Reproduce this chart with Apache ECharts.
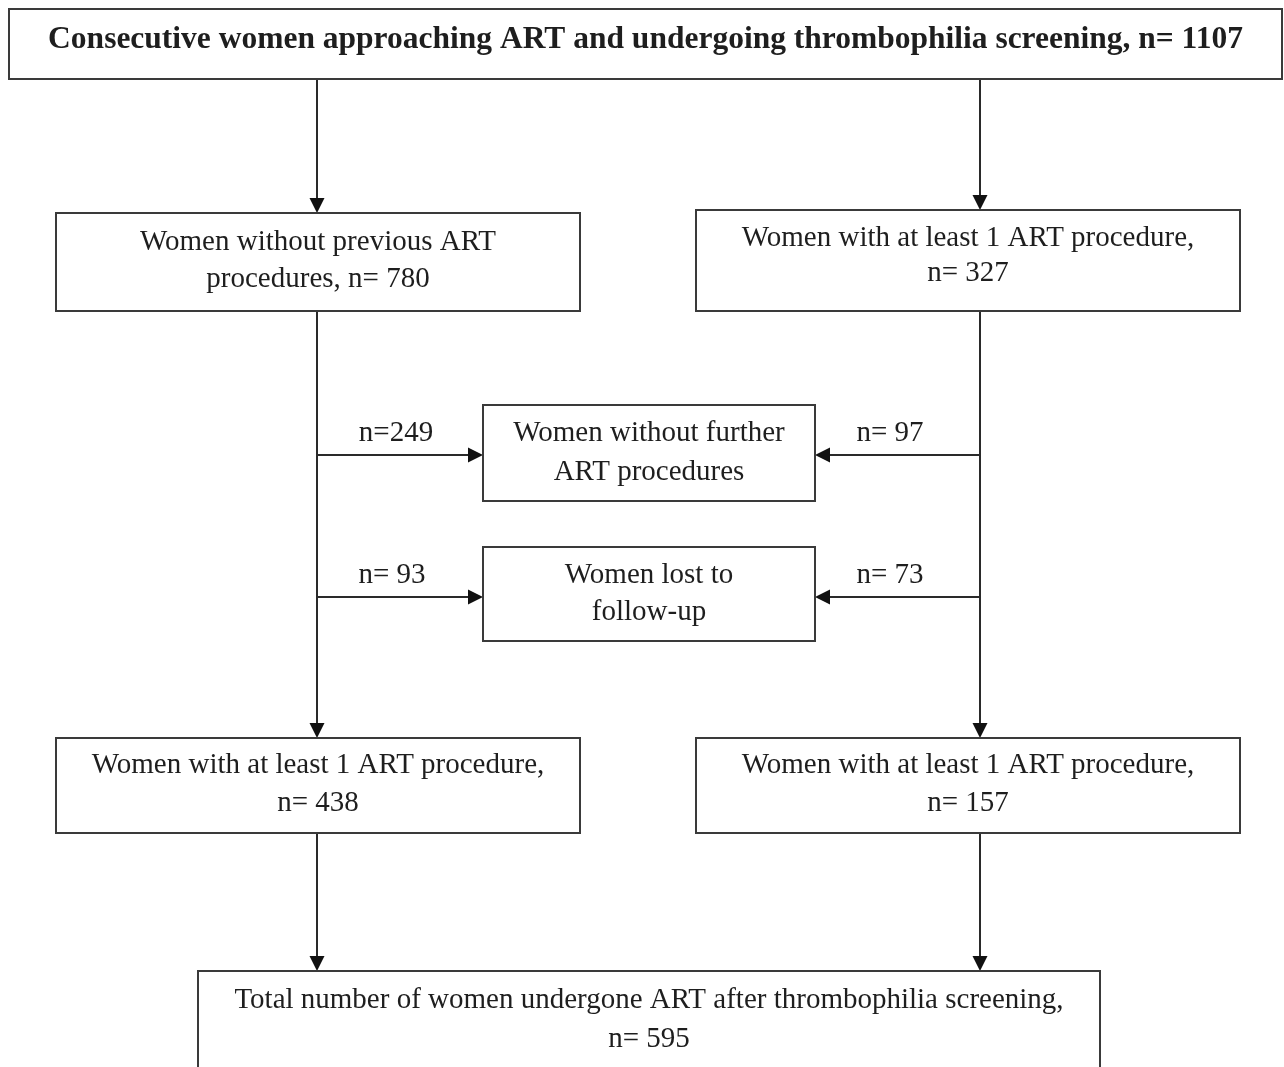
<!DOCTYPE html>
<html><head><meta charset="utf-8">
<script src="https://cdn.jsdelivr.net/npm/echarts@6/dist/echarts.min.js"></script>
<style>html,body{margin:0;padding:0;background:#fff}#c{width:1284px;height:1067px}</style>
</head><body><div id="c"></div>
<script>
// ---- content ----
const boxTexts = [
  "Consecutive women approaching ART and undergoing thrombophilia screening, n= 1107",
  "Women without previous ART\nprocedures, n= 780",
  "Women with at least 1 ART procedure,\nn= 327",
  "Women without further\nART procedures",
  "Women lost to\nfollow-up",
  "Women with at least 1 ART procedure,\nn= 438",
  "Women with at least 1 ART procedure,\nn= 157",
  "Total number of women undergone ART after thrombophilia screening,\nn= 595"
];
const boxBold = [true, false, false, false, false, false, false, false];
const countLabels = ["n=249", "n= 97", "n= 93", "n= 73"];

// ---- layout (pixel space of the diagram, 1284 x 1067) ----
const boxRects = [
  [9, 9, 1282, 79],
  [56, 213, 580, 311],
  [696, 210, 1240, 311],
  [483, 405, 815, 501],
  [483, 547, 815, 641],
  [56, 738, 580, 833],
  [696, 738, 1240, 833],
  [198, 971, 1100, 1069]
];
const boxTextY = [40, 242, 238, 433, 575, 765, 765, 1000];
const boxLineH = [37, 37, 35, 39, 37, 38, 38, 39];
const arrowSegs = [
  [317, 79, 317, 213],
  [980, 79, 980, 210],
  [317, 311, 317, 738],
  [980, 311, 980, 738],
  [317, 455, 483, 455],
  [317, 597, 483, 597],
  [980, 455, 815, 455],
  [980, 597, 815, 597],
  [317, 833, 317, 971],
  [980, 833, 980, 971]
];
const countPos = [[396, 433], [890, 433], [392, 575], [890, 575]];

const FONT_SIZE = 29;
const BOLD_SIZE = 31.5;
const FAMILY = '"Liberation Serif", "Times New Roman", serif';

const chart = echarts.init(document.getElementById('c'), null, {renderer: 'canvas'});
chart.setOption({
  animation: false,
  backgroundColor: '#ffffff',
  grid: {left: 0, right: 0, top: 0, bottom: 0},
  xAxis: {type: 'value', min: 0, max: 1284, show: false},
  yAxis: {type: 'value', min: 0, max: 1067, inverse: true, show: false},
  series: [
    {
      type: 'custom',
      coordinateSystem: 'cartesian2d',
      data: arrowSegs,
      renderItem: function (params, api) {
        const a = api.coord([api.value(0), api.value(1)]);
        const b = api.coord([api.value(2), api.value(3)]);
        const dx = b[0] - a[0], dy = b[1] - a[1];
        const len = Math.sqrt(dx * dx + dy * dy);
        const ux = dx / len, uy = dy / len;
        const L = 15, W = 7.5;
        const base = [b[0] - ux * L, b[1] - uy * L];
        return {
          type: 'group',
          children: [
            {type: 'line', shape: {x1: a[0], y1: a[1], x2: base[0], y2: base[1]},
             style: {stroke: '#2a2a2a', lineWidth: 2}},
            {type: 'polygon', shape: {points: [
              [b[0], b[1]],
              [base[0] - uy * W, base[1] + ux * W],
              [base[0] + uy * W, base[1] - ux * W]
            ]}, style: {fill: '#111111'}}
          ]
        };
      }
    },
    {
      type: 'custom',
      coordinateSystem: 'cartesian2d',
      data: boxRects.map((r, i) => r.concat([boxTextY[i]])),
      renderItem: function (params, api) {
        const i = params.dataIndex;
        const p0 = api.coord([api.value(0), api.value(1)]);
        const p1 = api.coord([api.value(2), api.value(3)]);
        const ty = api.coord([0, api.value(4)])[1];
        const lh = boxLineH[i];
        const fs = boxBold[i] ? BOLD_SIZE : FONT_SIZE;
        return {
          type: 'group',
          children: [
            {type: 'rect', shape: {x: p0[0], y: p0[1], width: p1[0] - p0[0], height: p1[1] - p0[1]},
             style: {fill: '#ffffff', stroke: '#3a3a3a', lineWidth: 2}},
            {type: 'text', x: (p0[0] + p1[0]) / 2, y: ty - lh / 2,
             style: {text: boxTexts[i], textAlign: 'center', textVerticalAlign: 'top',
                     font: (boxBold[i] ? 'bold ' : '') + fs + 'px ' + FAMILY,
                     lineHeight: lh, fill: '#1e1e1e'}}
          ]
        };
      }
    },
    {
      type: 'custom',
      coordinateSystem: 'cartesian2d',
      data: countPos,
      renderItem: function (params, api) {
        const p = api.coord([api.value(0), api.value(1)]);
        return {type: 'text', x: p[0], y: p[1],
          style: {text: countLabels[params.dataIndex], textAlign: 'center', textVerticalAlign: 'middle',
                  font: FONT_SIZE + 'px ' + FAMILY, fill: '#1e1e1e'}};
      }
    }
  ]
});
</script>
</body></html>
